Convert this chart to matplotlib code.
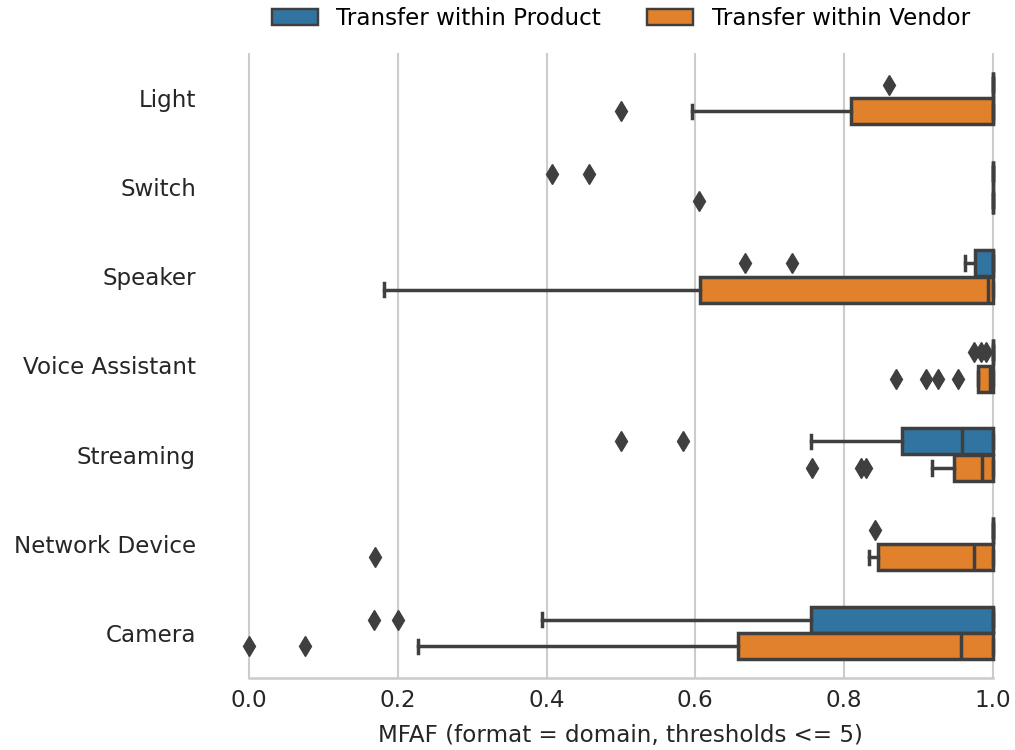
import numpy as np
import matplotlib
matplotlib.use("Agg")
import matplotlib.pyplot as plt
from matplotlib.patches import Patch

categories = ["Light", "Switch", "Speaker", "Voice Assistant",
              "Streaming", "Network Device", "Camera"]
hue_labels = ["Transfer within Product", "Transfer within Vendor"]

# Transfer within Product
product_q1 = [1.0, 1.0, 0.976, 1.0, 0.878, 1.0, 0.756]
product_med = [1.0, 1.0, 1.0, 1.0, 0.959, 1.0, 1.0]
product_q3 = [1.0, 1.0, 1.0, 1.0, 1.0, 1.0, 1.0]
product_lo = [1.0, 1.0, 0.963, 1.0, 0.755, 1.0, 0.394]
product_hi = [1.0, 1.0, 1.0, 1.0, 1.0, 1.0, 1.0]
product_fliers = [[0.86], [0.407, 0.457], [0.667, 0.73],
                  [0.975, 0.984, 0.991], [0.5, 0.583], [0.841], [0.168, 0.2]]

# Transfer within Vendor
vendor_q1 = [0.81, 1.0, 0.607, 0.98, 0.948, 0.845, 0.657]
vendor_med = [1.0, 1.0, 0.993, 0.996, 0.986, 0.975, 0.957]
vendor_q3 = [1.0, 1.0, 1.0, 1.0, 1.0, 1.0, 1.0]
vendor_lo = [0.595, 1.0, 0.181, 0.98, 0.918, 0.833, 0.227]
vendor_hi = [1.0, 1.0, 1.0, 1.0, 1.0, 1.0, 1.0]
vendor_fliers = [[0.5], [0.605], [], [0.87, 0.91, 0.926, 0.953],
                 [0.757, 0.823, 0.83], [0.17], [0.0, 0.075]]

colors = ["#3274a1", "#e1812c"]
gray = "#3f3f3f"
fs = 16.6
lw = 2.5


def make_stats(q1, med, q3, lo, hi, fliers):
    stats = []
    for i in range(len(q1)):
        stats.append({
            "q1": q1[i], "med": med[i], "q3": q3[i],
            "whislo": lo[i], "whishi": hi[i],
            "fliers": np.array(fliers[i]),
        })
    return stats


fig = plt.figure(figsize=(10.15, 7.5), dpi=100)
ax = fig.add_axes([211.8 / 1015, 72.4 / 750, 818.2 / 1015, 624.2 / 750])

groups = [
    make_stats(product_q1, product_med, product_q3, product_lo, product_hi, product_fliers),
    make_stats(vendor_q1, vendor_med, vendor_q3, vendor_lo, vendor_hi, vendor_fliers),
]
offsets = [-0.15, 0.15]
pos = np.arange(len(categories))

for stats, off, col in zip(groups, offsets, colors):
    ax.bxp(
        stats,
        positions=pos + off,
        widths=0.294,
        orientation="horizontal",
        patch_artist=True,
        boxprops=dict(facecolor=col, edgecolor=gray, linewidth=lw),
        medianprops=dict(color=gray, linewidth=lw),
        whiskerprops=dict(color=gray, linewidth=lw),
        capprops=dict(color=gray, linewidth=lw),
        flierprops=dict(marker="d", markerfacecolor=gray, markeredgecolor=gray,
                        markersize=10.5, linestyle="none"),
        manage_ticks=False,
        zorder=2,
    )

ax.set_xlim(-0.05, 1.05)
ax.set_ylim(len(categories) - 0.5, -0.5)
ax.set_yticks(pos)
ax.set_yticklabels(categories)
ax.set_xticks([0.0, 0.2, 0.4, 0.6, 0.8, 1.0])
ax.set_xticklabels(["0.0", "0.2", "0.4", "0.6", "0.8", "1.0"])
ax.tick_params(axis="y", length=0, pad=11.4, labelsize=fs, labelcolor="#262626")
ax.tick_params(axis="x", length=0, pad=8, labelsize=fs, labelcolor="#262626")
ax.set_xlabel("MFAF (format = domain, thresholds <= 5)", fontsize=fs,
              color="#262626", labelpad=9)

ax.grid(axis="x", color="#cccccc", linewidth=1.5, zorder=0)
ax.set_axisbelow(True)
for side in ["left", "right", "top"]:
    ax.spines[side].set_visible(False)
ax.spines["bottom"].set_color("#cccccc")
ax.spines["bottom"].set_linewidth(1.875)
ax.spines["bottom"].set_bounds(0.0, 1.0)

handles = [Patch(facecolor=c, edgecolor=gray, linewidth=lw * 0.7) for c in colors]
ax.legend(handles, hue_labels, loc="lower center", bbox_to_anchor=(0.5, 1.0),
          ncol=2, frameon=False, fontsize=fs, borderaxespad=0.6)

fig.savefig("out.png", dpi=100)
